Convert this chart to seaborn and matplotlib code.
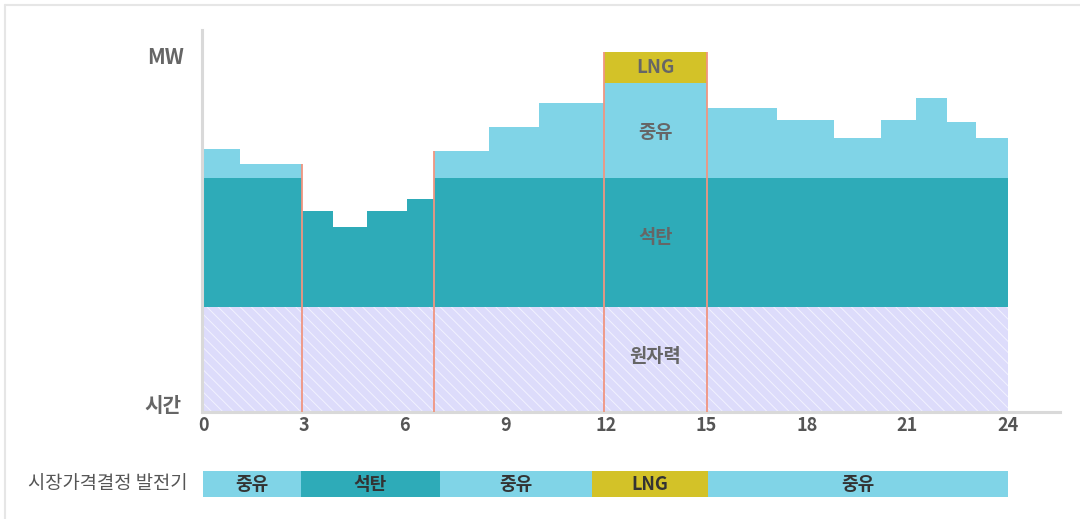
import numpy as np
import matplotlib.pyplot as plt
import seaborn as sns
from matplotlib.lines import Line2D

# hour edges of the steps and the stacked MW per step
edges = [0, 1.1, 2.93, 3.88, 4.88, 6.06, 6.87, 8.51, 10.0, 11.95, 15.02,
         17.1, 18.81, 20.21, 21.25, 22.17, 23.06, 24.0]
nuclear = [105] * 17
coal = [129, 129, 96, 80, 96, 108, 129, 129, 129, 129, 129, 129, 129, 129, 129, 129, 129]
oil = [29, 14, 0, 0, 0, 0, 27, 51, 75, 95, 70, 58, 40, 58, 80, 56, 40]
lng = [0, 0, 0, 0, 0, 0, 0, 0, 0, 31, 0, 0, 0, 0, 0, 0, 0]

# marginal (price setting) generator per block
marginal_edges = [0, 2.9, 7.05, 11.6, 15.05, 24.0]
marginal_fuel = ["중유", "석탄", "중유", "LNG", "중유"]
switch_hours = [2.93, 6.87, 11.95, 15.02]
xticks = [0, 3, 6, 9, 12, 15, 18, 21, 24]

colors = {"원자력": "#dddcfb", "석탄": "#2eabb8", "중유": "#80d4e7", "LNG": "#d3c228"}
red = "#f09580"
grey_txt = "#666666"

sns.set_theme(style="white")
plt.rcParams["font.family"] = ["Noto Sans CJK KR", "DejaVu Sans"]
plt.rcParams["hatch.linewidth"] = 0.7

fig = plt.figure(figsize=(10.8, 5.19), dpi=100)
W, H = 1080, 519
ax = fig.add_axes([201.7 / W, (H - 412) / H, (1060 - 201.7) / W, (412 - 30) / H])

e = np.array(edges)
left = e[:-1]
width = np.diff(e)
nuc = np.array(nuclear)
co = np.array(coal)
oi = np.array(oil)
ln = np.array(lng)

ax.bar(left, nuc, width=width, align="edge", color=colors["원자력"],
       edgecolor="#f2f2ff", linewidth=0, hatch="\\\\\\")
ax.bar(left, co, width=width, bottom=nuc, align="edge", color=colors["석탄"], linewidth=0)
ax.bar(left, oi, width=width, bottom=nuc + co, align="edge", color=colors["중유"], linewidth=0)
ax.bar(left, ln, width=width, bottom=nuc + co + oi, align="edge", color=colors["LNG"], linewidth=0)

total = nuc + co + oi + ln
for h in switch_hours:
    i = np.searchsorted(e, h)
    top = max(total[max(i - 1, 0)], total[min(i, len(total) - 1)])
    ax.vlines(h, 0, top, color=red, linewidth=1.3, zorder=3)

# layer labels in the LNG block
k = int(np.argmax(ln))
xc = (e[k] + e[k + 1]) / 2
lab = dict(ha="center", va="center", fontsize=13.5, color=grey_txt, fontweight="bold")
ax.text(xc, nuc[k] / 2 + 3, "원자력", **lab)
ax.text(xc, nuc[k] + co[k] / 2 + 5, "석탄", **lab)
ax.text(xc, nuc[k] + co[k] + oi[k] / 2 - 2, "중유", **lab)
ax.text(xc, total[k] - ln[k] / 2, "LNG", **lab)

ax.set_xlim(-0.05, (1060 - 203) / 33.54)
ax.set_ylim(0, 382)
ax.set_xticks(xticks)
ax.set_xticklabels([str(t) for t in xticks], fontsize=13, color="#555555", fontweight="bold")
ax.set_yticks([])
ax.tick_params(axis="x", length=0, pad=3)
sns.despine(ax=ax, top=True, right=True)
for s in ["left", "bottom"]:
    ax.spines[s].set_color("#d9d9d9")
    ax.spines[s].set_linewidth(2.2)

fig.text(166 / W, 1 - 57 / H, "MW", ha="center", va="center", fontsize=15,
         color=grey_txt, fontweight="bold")
fig.text(163 / W, 1 - 405 / H, "시간", ha="center", va="center", fontsize=14.5,
         color=grey_txt, fontweight="bold")

# bottom strip: marginal generator
ax2 = fig.add_axes([201.7 / W, (H - 497) / H, (1060 - 201.7) / W, 26 / H])
me = np.array(marginal_edges)
ax2.barh([0] * len(marginal_fuel), np.diff(me), left=me[:-1], height=1,
         color=[colors[f] for f in marginal_fuel], linewidth=0)
for a, b, f in zip(me[:-1], me[1:], marginal_fuel):
    ax2.text((a + b) / 2, 0, f, ha="center", va="center", fontsize=13,
             color="#333333", fontweight="bold")
ax2.set_xlim(ax.get_xlim())
ax2.set_ylim(-0.5, 0.5)
ax2.axis("off")
fig.text(108 / W, 1 - 484 / H, "시장가격결정 발전기", ha="center", va="center",
         fontsize=13.5, color="#555555")

# faint frame on top and left
fig.add_artist(Line2D([5 / W, 1], [1 - 5 / H, 1 - 5 / H], color="#e6e6e6", linewidth=1.5))
fig.add_artist(Line2D([5 / W, 5 / W], [0, 1 - 5 / H], color="#e6e6e6", linewidth=1.5))

fig.savefig("out.png", dpi=100)
